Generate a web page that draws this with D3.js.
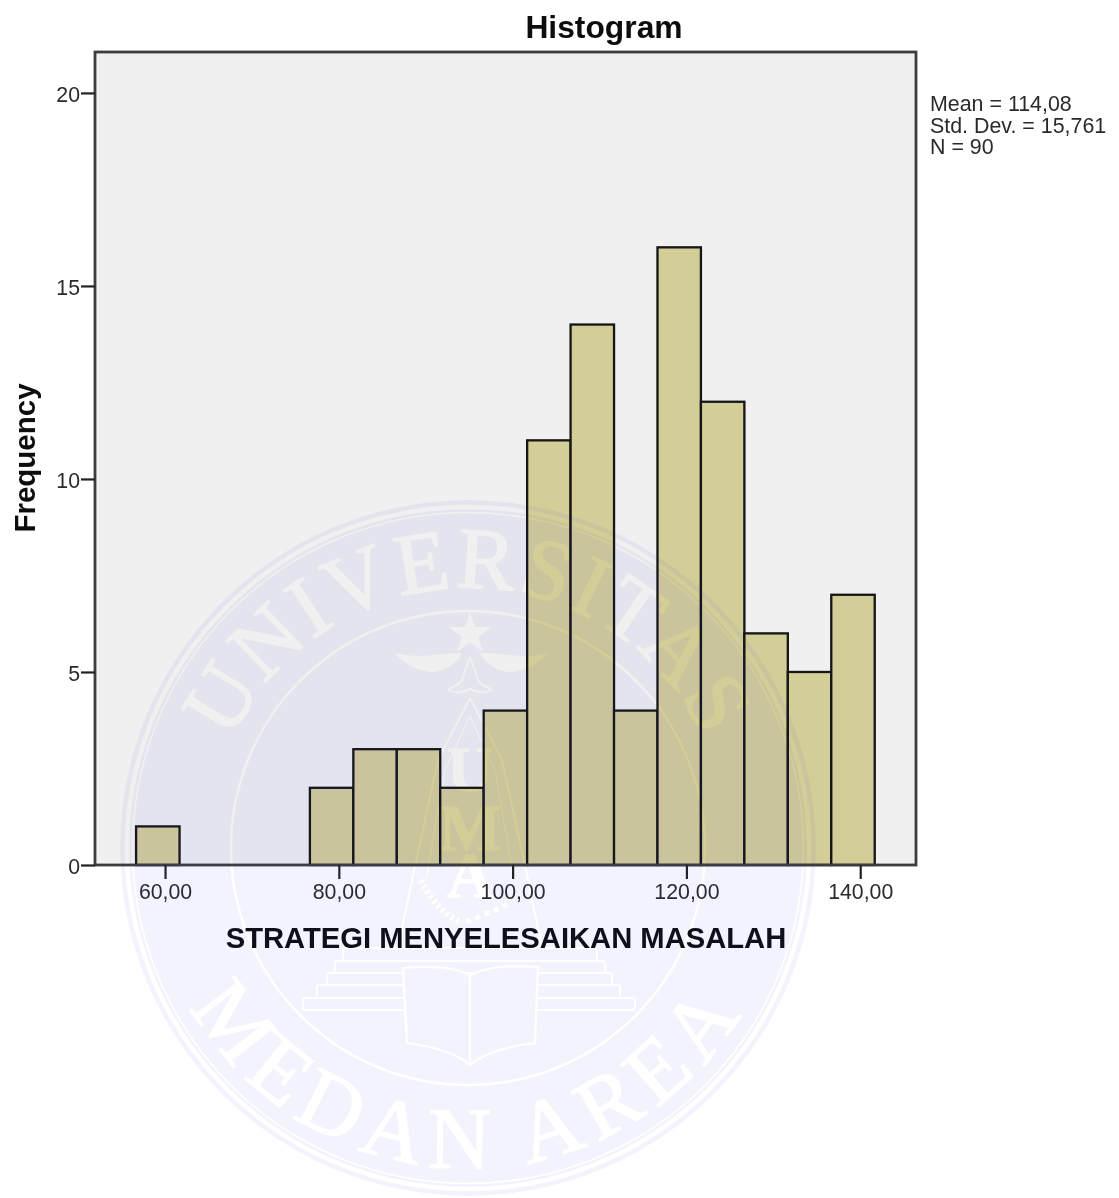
<!DOCTYPE html>
<html><head><meta charset="utf-8">
<script src="https://cdnjs.cloudflare.com/ajax/libs/d3/7.8.5/d3.min.js"></script>
<style>html,body{margin:0;padding:0;background:#fff}svg{display:block;font-family:"Liberation Sans",Arial,sans-serif}</style>
</head><body><div id="c"></div>
<script>
const binWidth = 5;
const binStarts = [56.67,61.67,66.67,71.67,76.67,81.67,86.67,91.67,96.67,101.67,106.67,111.67,116.67,121.67,126.67,131.67,136.67];
const counts = [1,0,0,0,2,3,3,2,4,11,14,4,16,12,6,5,7];
const xTicks = [60,80,100,120,140];
const yTicks = [0,5,10,15,20];
const statLines = ["Mean = 114,08","Std. Dev. = 15,761","N = 90"];
const titleText = "Histogram", xTitle = "STRATEGI MENYELESAIKAN MASALAH", yTitle = "Frequency";

const W=1119,H=1198, L=95,R=916,T=52,B=865;
const svg=d3.select("#c").append("svg").attr("width",W).attr("height",H);
const defs=svg.append("defs");
defs.append("filter").attr("id","soft").attr("x","-2%").attr("y","-2%").attr("width","104%").attr("height","104%")
  .append("feGaussianBlur").attr("stdDeviation",0.6);
const x=d3.scaleLinear().domain([51.94,146.42]).range([L,R]);
const y=d3.scaleLinear().domain([0,21.06]).range([B,T]);
const g=svg.append("g").attr("filter","url(#soft)");
g.append("rect").attr("x",L).attr("y",T).attr("width",R-L).attr("height",B-T).attr("fill","#f0f0f0");
g.selectAll("rect.bar").data(binStarts.map((s,i)=>({s,c:counts[i]})).filter(d=>d.c>0)).join("rect").attr("class","bar")
  .attr("x",d=>x(d.s)).attr("width",d=>x(d.s+binWidth)-x(d.s))
  .attr("y",d=>y(d.c)).attr("height",d=>y(0)-y(d.c))
  .attr("fill","#d3ce97").attr("stroke","#141414").attr("stroke-width",2.3);
g.append("rect").attr("x",L).attr("y",T).attr("width",R-L).attr("height",B-T).attr("fill","none").attr("stroke","#3c3c3c").attr("stroke-width",2.8);
const ax=g.append("g").attr("transform",`translate(0,${B})`).call(d3.axisBottom(x).tickValues(xTicks).tickSize(14).tickSizeOuter(0).tickFormat(d=>d3.format(".2f")(d).replace(".",",")));
const ay=g.append("g").attr("transform",`translate(${L},0)`).call(d3.axisLeft(y).tickValues(yTicks).tickSize(14).tickSizeOuter(0));
[ax,ay].forEach(a=>{a.select(".domain").remove();a.selectAll("line").attr("stroke","#222").attr("stroke-width",2.2);a.selectAll("text").attr("font-size",21.3).attr("fill","#2a2a2a").attr("font-family","Liberation Sans");});
ax.selectAll("text").attr("y",19).attr("dy","0.71em");
ay.selectAll("text").attr("x",-15).attr("dy","0.42em");
g.append("text").attr("x",604).attr("y",38).attr("text-anchor","middle").attr("font-weight","bold").attr("font-size",31.8).attr("fill","#111").text(titleText);
g.append("text").attr("x",506).attr("y",948).attr("text-anchor","middle").attr("font-weight","bold").attr("font-size",29.2).attr("fill","#111").text(xTitle);
g.append("text").attr("transform","translate(35,458) rotate(-90)").attr("text-anchor","middle").attr("font-weight","bold").attr("font-size",29.5).attr("fill","#111").text(yTitle);
g.selectAll("text.stat").data(statLines).join("text").attr("class","stat").attr("x",930).attr("y",(d,i)=>111+i*21.5).attr("font-size",21.4).attr("fill","#2a2a2a").text(d=>d);

// Watermark seal (decoration): tinted disc with knocked-out rings, lettering and emblem
const cx=468,cy=848,r0=348;
const m=defs.append("mask").attr("id","seal").attr("maskUnits","userSpaceOnUse").attr("x",0).attr("y",0).attr("width",W).attr("height",H);
m.append("circle").attr("cx",cx).attr("cy",cy).attr("r",r0).attr("fill","#fff");
const ring=(r,w)=>m.append("circle").attr("cx",cx).attr("cy",cy).attr("r",r).attr("fill","none").attr("stroke","#000").attr("stroke-width",w);
ring(341,4.5);ring(335.5,1.6);ring(237,2.4);
const arc=(id,r,sweep)=>{const a=1.45;const x0=cx-r*Math.sin(a),x1=cx+r*Math.sin(a);const yy=cy+(sweep?-1:1)*r*Math.cos(a);
  defs.append("path").attr("id",id).attr("d",`M${x0},${yy}A${r},${r} 0 0 ${sweep?1:0} ${x1},${yy}`);};
arc("arcTop",260,true);arc("arcBot",320,false);
const ser="Liberation Serif";
[["arcTop","UNIVERSITAS",3],["arcBot","MEDAN AREA",10]].forEach(([id,t,ls])=>{
  m.append("text").style("font-family",ser).attr("font-size",87).attr("fill","#000").attr("stroke","#000").attr("stroke-width",1.6).attr("text-anchor","middle").attr("letter-spacing",ls)
   .append("textPath").attr("href","#"+id).attr("startOffset","50%").text(t);});
// star
m.append("path").attr("transform",`translate(470,634)`).attr("d",d3.symbol(d3.symbolStar,560)()).attr("fill","#000");
// wings and bird
const line=(d,w=2)=>m.append("path").attr("d",d).attr("fill","none").attr("stroke","#000").attr("stroke-width",w).attr("stroke-linejoin","round");
const fill=d=>m.append("path").attr("d",d).attr("fill","#000");
fill("M395,653C420,660 445,652 462,653C456,665 440,675 425,671C412,668 402,661 395,653Z");
fill("M548,653C525,660 497,652 480,653C486,665 502,675 517,671C530,668 541,661 548,653Z");
line("M470,657L462,680C458,688 450,686 449,690C456,694 464,692 470,689C476,692 484,694 491,690C490,686 482,688 478,680L470,657",2);
// triangle
line("M470,698L438,760L412,880L398,948",2);line("M470,698L502,760L528,880L542,948",2);
line("M470,716L445,770L426,880",1.2);line("M470,716L495,770L514,880",1.2);
// letters
[["U",791],["M",850],["A",897]].forEach(([t,yy])=>m.append("text").attr("x",470).attr("y",yy).attr("text-anchor","middle").style("font-family",ser).attr("font-weight","bold").attr("font-size",t==="M"?66:64).attr("fill","#000").attr("stroke","#000").attr("stroke-width",1).text(t));
// sprigs
line("M421,880C430,900 445,915 462,923",6).attr("stroke-dasharray","3 3");line("M466,922L510,904",5).attr("stroke-dasharray","5 5");
// steps
[[303,998,332,12],[317,985,303,13],[327,973,285,12],[335,961,270,12],[343,948,254,13]].forEach(s=>
  m.append("rect").attr("x",s[0]).attr("y",s[1]).attr("width",s[2]).attr("height",s[3]).attr("rx",2).attr("fill","none").attr("stroke","#000").attr("stroke-width",1.8));
// book
m.append("path").attr("d","M403,968C425,966 455,966 470,976C485,966 515,965 538,967L535,1043C510,1046 485,1052 470,1065C455,1052 430,1046 407,1043Z").attr("fill","#fff").attr("stroke","#000").attr("stroke-width",2.2);
line("M470,976L470,1065",2.2);
svg.append("circle").attr("cx",cx).attr("cy",cy).attr("r",r0).attr("fill","rgb(55,55,222)").attr("fill-opacity",0.06).attr("mask","url(#seal)");
</script></body></html>
